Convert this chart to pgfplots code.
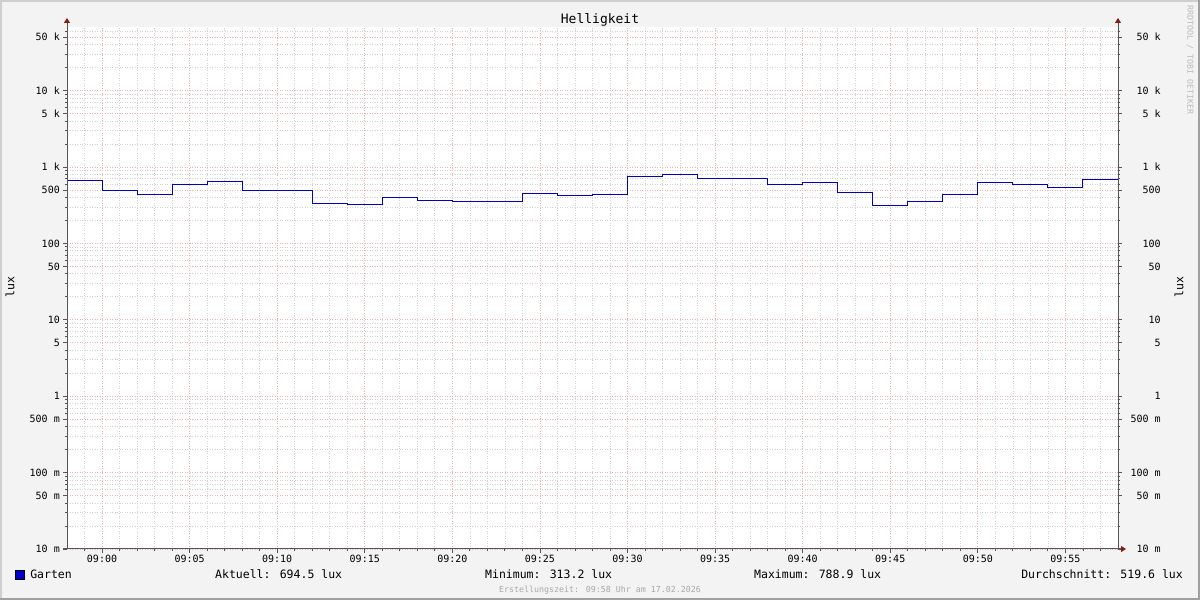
\documentclass[border=0pt]{standalone}
\usepackage{pgfplots}
\pgfplotsset{compat=1.18}
\usepackage{pgfplotstable}
\usepackage{fontspec}
\setmainfont{DejaVu Sans Mono}
\usetikzlibrary{arrows.meta}
\definecolor{bgout}{HTML}{F3F3F3}
\definecolor{bordlight}{HTML}{CFCFCF}
\definecolor{borddark}{HTML}{A0A0A0}
\definecolor{mgrid}{HTML}{EBB4B4}
\definecolor{ngrid}{HTML}{D2D2D2}
\definecolor{axiscol}{HTML}{555555}
\definecolor{arrowcol}{HTML}{8B1A1A}
\definecolor{garten}{HTML}{0000CC}
\definecolor{footgray}{HTML}{A8A8A8}
\definecolor{wmgray}{HTML}{BBBBBB}

\pgfplotstableread{
t v
-2 662
0 499
2 439
4 588
6 643
8 491
12 332
14 325
16 397
18 363
20 354
24 448
26 426
28 439
30 754
32 788.9
34 703
38 588
40 624
42 461
44 313.2
46 352
48 434
50 624
52 588
54 537
56 694.5
58 694.5
}\gartendata

\begin{document}
\begin{tikzpicture}
\useasboundingbox (0pt,0pt) rectangle (1200pt,600pt);
\fill[bgout] (0pt,0pt) rectangle (1200pt,600pt);
\fill[bordlight] (0pt,0pt) rectangle (2pt,600pt);
\fill[bordlight] (0pt,598pt) rectangle (1200pt,600pt);
\fill[borddark] (0pt,0pt) rectangle (1200pt,2pt);
\fill[borddark] (1198pt,0pt) rectangle (1200pt,600pt);
\fill[white] (67pt,51pt) rectangle (1118pt,573pt);

\begin{axis}[
  at={(67pt,51pt)}, anchor=south west,
  scale only axis, width=1051pt, height=522pt,
  xmin=-2, xmax=58,
  ymode=log, ymin=0.01, ymax=68000,
  axis line style={draw=none},
  xtick={0,5,10,15,20,25,30,35,40,45,50,55},
  xticklabels={09:00,09:05,09:10,09:15,09:20,09:25,09:30,09:35,09:40,09:45,09:50,09:55},
  minor xtick={-1,1,2,3,4,6,7,8,9,11,12,13,14,16,17,18,19,21,22,23,24,26,27,28,29,31,32,33,34,36,37,38,39,41,42,43,44,46,47,48,49,51,52,53,54,56,57},
  ytick={0.01,0.05,0.1,0.5,1,5,10,50,100,500,1000,5000,10000,50000},
  yticklabels={10 m,50 m,100 m,500 m,1,5,10,50,100,500,1 k,5 k,10 k,50 k},
  minor ytick={0.02,0.03,0.04,0.06,0.07,0.08,0.09,0.2,0.3,0.4,0.6,0.7,0.8,0.9,2,3,4,6,7,8,9,20,30,40,60,70,80,90,200,300,400,600,700,800,900,2000,3000,4000,6000,7000,8000,9000,20000,30000,40000,60000},
  grid=both,
  major grid style={draw=mgrid, line width=0.7pt, dash pattern=on 1pt off 1.5pt},
  minor grid style={draw=ngrid, line width=0.7pt, dash pattern=on 1pt off 1.5pt},
  tick pos=left, tick align=outside,
  major tick length=4pt, minor tick length=2pt,
  tick style={draw=axiscol, line width=0.8pt},
  ticklabel style={font=\fontsize{10}{12}\selectfont, text=black, inner sep=0pt},
  yticklabel style={anchor=east, xshift=-3pt},
  xticklabel style={anchor=base, yshift=-9.5pt},
  legend style={at={(-0.0495,-0.0498)}, anchor=west, draw=none, fill=none,
    inner sep=0pt, font=\fontsize{11.5}{13}\selectfont,
    nodes={inner sep=0pt}, /tikz/every odd column/.style={column sep=5.5pt}},
  legend image code/.code={\draw[draw=black, fill=garten, line width=0.6pt] (0pt,-4.5pt) rectangle (9pt,4.5pt);},
]
\addplot[const plot, draw=garten, line width=1pt] table[x=t,y=v]{\gartendata};
\addlegendentry{Garten}
\end{axis}

\begin{axis}[
  at={(67pt,51pt)}, anchor=south west,
  scale only axis, width=1051pt, height=522pt,
  xmin=-2, xmax=58,
  ymode=log, ymin=0.01, ymax=68000,
  axis line style={draw=none},
  axis x line=none,
  xtick=\empty,
  ytick={0.01,0.05,0.1,0.5,1,5,10,50,100,500,1000,5000,10000,50000},
  yticklabels={10 m,50 m,100 m,500 m,1,5,10,50,100,500,1 k,5 k,10 k,50 k},
  minor ytick={0.02,0.03,0.04,0.06,0.07,0.08,0.09,0.2,0.3,0.4,0.6,0.7,0.8,0.9,2,3,4,6,7,8,9,20,30,40,60,70,80,90,200,300,400,600,700,800,900,2000,3000,4000,6000,7000,8000,9000,20000,30000,40000,60000},
  ytick pos=right, tick align=outside,
  major tick length=4pt, minor tick length=2pt,
  tick style={draw=axiscol, line width=0.8pt},
  ticklabel style={font=\fontsize{10}{12}\selectfont, text=black, inner sep=0pt},
  yticklabel style={anchor=east, xshift=39pt},
]
\end{axis}

% axis lines with arrows
\draw[axiscol, line width=1pt, -{Triangle[length=5pt,width=6pt,color=arrowcol]}] (67pt,51pt) -- (67pt,582pt);
\draw[axiscol, line width=1pt, -{Triangle[length=5pt,width=6pt,color=arrowcol]}] (1118pt,51pt) -- (1118pt,582pt);
\draw[axiscol, line width=1pt, -{Triangle[length=5pt,width=6pt,color=arrowcol]}] (63pt,51pt) -- (1126pt,51pt);

% texts
\node[anchor=base, font=\fontsize{13}{15}\selectfont] at (600pt,576pt) {Helligkeit};
\node[rotate=90, font=\fontsize{11.5}{13}\selectfont] at (10pt,313pt) {lux};
\node[rotate=90, font=\fontsize{11.5}{13}\selectfont] at (1179pt,313pt) {lux};
\node[rotate=-90, text=wmgray, font=\fontsize{8.3}{10}\selectfont] at (1190pt,540pt) {RRDTOOL / TOBI OETIKER};
\node[anchor=base west, inner sep=0pt, font=\fontsize{11.5}{13}\selectfont] at (215pt,21pt) {Aktuell: 694.5 lux};
\node[anchor=base west, inner sep=0pt, font=\fontsize{11.5}{13}\selectfont] at (485pt,21pt) {Minimum: 313.2 lux};
\node[anchor=base west, inner sep=0pt, font=\fontsize{11.5}{13}\selectfont] at (754pt,21pt) {Maximum: 788.9 lux};
\node[anchor=base east, inner sep=0pt, font=\fontsize{11.5}{13}\selectfont] at (1183pt,21pt) {Durchschnitt: 519.6 lux};
\node[anchor=base, inner sep=0pt, text=footgray, font=\fontsize{8.3}{10}\selectfont] at (600pt,8pt) {Erstellungszeit: 09:58 Uhr am 17.02.2026};
\end{tikzpicture}
\end{document}
